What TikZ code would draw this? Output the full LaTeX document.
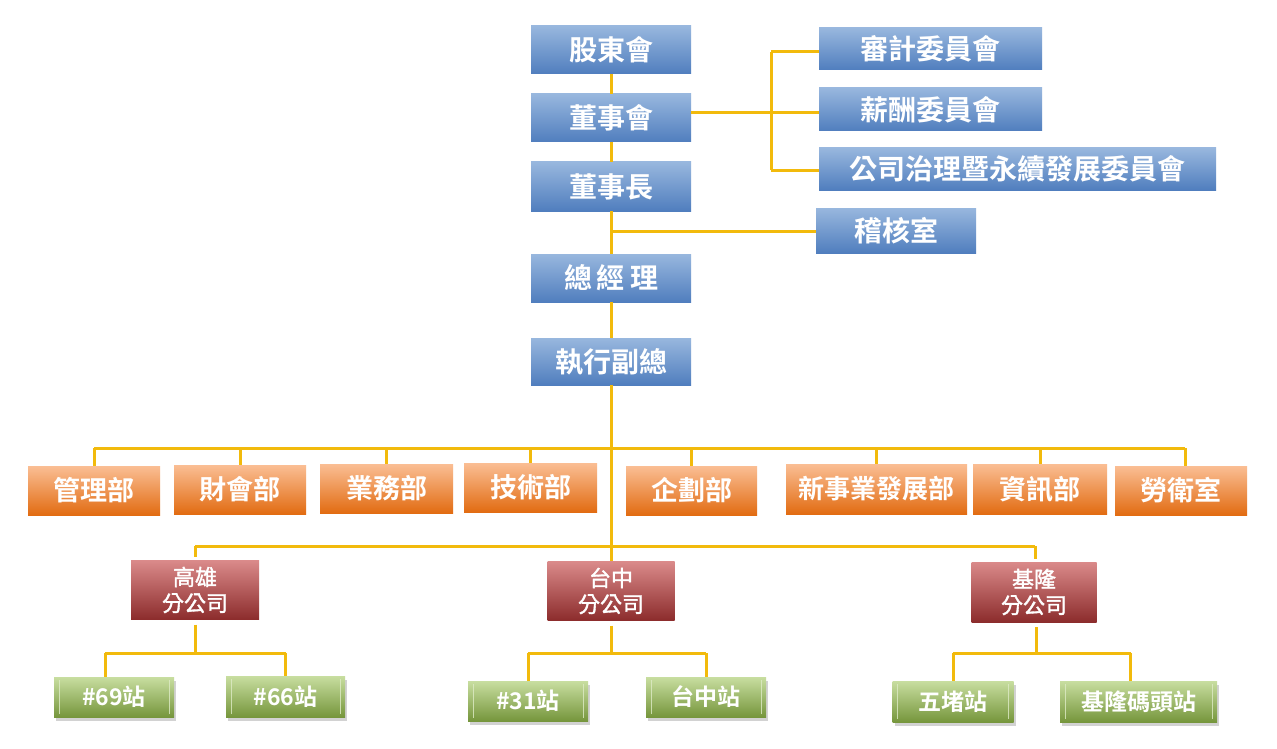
\documentclass[tikz,border=0pt]{standalone}
\usepackage{fontspec}
\newfontfamily\cjk{Noto Sans CJK TC}[BoldFont={Noto Sans CJK TC Bold}]
\newfontfamily\cjkmed{Noto Sans CJK TC}[FakeBold=1.6]
\usetikzlibrary{shadows}
\definecolor{linec}{RGB}{242,186,12}
\definecolor{bltop}{RGB}{152,183,222}
\definecolor{blbot}{RGB}{80,126,190}
\definecolor{ortop}{RGB}{250,190,148}
\definecolor{orbot}{RGB}{226,108,18}
\definecolor{rdtop}{RGB}{218,138,138}
\definecolor{rdbot}{RGB}{140,44,44}
\definecolor{grtop}{RGB}{200,222,160}
\definecolor{grbot}{RGB}{118,150,60}
\tikzset{
  basebox/.style={rectangle, inner sep=0pt, text=white, align=center},
  bluebox/.style={basebox, top color=bltop, bottom color=blbot, font=\cjk\bfseries\fontsize{28}{30}\selectfont},
  orangebox/.style={basebox, top color=ortop, bottom color=orbot, font=\cjk\bfseries\fontsize{27}{30}\selectfont},
  redbox/.style={basebox, top color=rdtop, bottom color=rdbot, font=\cjkmed\fontsize{22}{26}\selectfont},
  greenbox/.style={basebox, top color=grtop, bottom color=grbot, font=\cjk\bfseries\fontsize{23}{26}\selectfont,
    drop shadow={opacity=0.35, shadow xshift=2pt, shadow yshift=-4pt},
    path picture={
      \draw[grtop!60!white, line width=0.8pt, opacity=0.8]
        ([xshift=5pt,yshift=-3pt]path picture bounding box.north west) --
        ([xshift=5pt,yshift=3pt]path picture bounding box.south west);
      \draw[grtop!60!white, line width=0.8pt, opacity=0.8]
        ([xshift=-5pt,yshift=-3pt]path picture bounding box.north east) --
        ([xshift=-5pt,yshift=3pt]path picture bounding box.south east);
    }},
  conn/.style={draw=linec, line width=3pt}
}
\begin{document}
\begin{tikzpicture}[x=1pt,y=-1pt]
\useasboundingbox (0,0) rectangle (1277,749);
\fill[white] (0,0) rectangle (1277,749);

% blue column
\node[bluebox, minimum width=160pt, minimum height=48pt] (gd) at (611,50) {股東會};
\node[bluebox, minimum width=160pt, minimum height=48pt] (bd) at (611,118) {董事會};
\node[bluebox, minimum width=160pt, minimum height=49pt] (cm) at (611,186.5) {董事長};
\node[bluebox, minimum width=160pt, minimum height=48pt] (gm) at (611,278) {總\hspace{5pt}經\hspace{5pt}理};
\node[bluebox, minimum width=160pt, minimum height=47pt] (evp) at (611,361.5) {執行副總};

% committees
\node[bluebox, minimum width=223pt, minimum height=42pt] (c1) at (930.5,49) {審計委員會};
\node[bluebox, minimum width=223pt, minimum height=43pt] (c2) at (930.5,109.5) {薪酬委員會};
\node[bluebox, minimum width=397pt, minimum height=42pt] (c3) at (1017.5,169) {公司治理暨永續發展委員會};
\node[bluebox, minimum width=160pt, minimum height=45pt] (au) at (896,230.5) {稽核室};

% departments
\node[orangebox, minimum width=132pt, minimum height=49pt] (d1) at (94,490.5) {管理部};
\node[orangebox, minimum width=132pt, minimum height=49pt] (d2) at (240,489.5) {財會部};
\node[orangebox, minimum width=133pt, minimum height=49pt] (d3) at (386.5,488.5) {業務部};
\node[orangebox, minimum width=133pt, minimum height=49pt] (d4) at (530.5,487.5) {技術部};
\node[orangebox, minimum width=131pt, minimum height=49pt] (d5) at (691.5,490.5) {企劃部};
\node[orangebox, minimum width=181pt, minimum height=50pt, font=\cjk\bfseries\fontsize{26}{30}\selectfont] (d6) at (876.5,489) {新事業發展部};
\node[orangebox, minimum width=134pt, minimum height=50pt] (d7) at (1040,489) {資訊部};
\node[orangebox, minimum width=132pt, minimum height=49pt] (d8) at (1181,490.5) {勞衛室};

% branches
\node[redbox, minimum width=128pt, minimum height=59pt] (kz) at (195,590) {高雄\\分公司};
\node[redbox, minimum width=127pt, minimum height=59pt] (tz) at (611,591) {台中\\分公司};
\node[redbox, minimum width=125pt, minimum height=60pt] (jl) at (1034,592) {基隆\\分公司};

% stations
\node[greenbox, minimum width=120pt, minimum height=40pt] (g1) at (114,697) {\#69站};
\node[greenbox, minimum width=119pt, minimum height=41pt] (g2) at (285.5,696.5) {\#66站};
\node[greenbox, minimum width=120pt, minimum height=40pt] (g3) at (528,701) {\#31站};
\node[greenbox, minimum width=120pt, minimum height=40pt] (g4) at (706,697) {台中站};
\node[greenbox, minimum width=121pt, minimum height=41pt] (g5) at (953,701.5) {五堵站};
\node[greenbox, minimum width=157pt, minimum height=41pt] (g6) at (1138.5,701.5) {基隆碼頭站};

% junction coordinates
\coordinate (bj) at (771,113);
\coordinate (ct) at (771,52);
\coordinate (cb) at (771,170);
\coordinate (aj) at (611,231);
\coordinate (db) at (611,448);
\coordinate (bb) at (611,546);
\coordinate (kj) at (195,653);
\coordinate (tj) at (611,653);
\coordinate (jj) at (1036,653);

% main trunk
\draw[conn] (gd) -- (bd);
\draw[conn] (bd) -- (cm);
\draw[conn] (cm) -- (gm);
\draw[conn] (gm) -- (evp);
\draw[conn] (evp.south) -- (tz.north);
% committees
\draw[conn] (bd.east |- bj) -- (bj);
\draw[conn] (ct) -- (cb);
\draw[conn] (ct) -- (c1.west |- ct);
\draw[conn] (bj) -- (c2.west |- bj);
\draw[conn] (cb) -- (c3.west |- cb);
% audit
\draw[conn] (aj) -- (au.west |- aj);
% department bus
\draw[conn] (d1.north |- db) -- ([xshift=4pt]d8.north |- db);
\foreach \d in {d1,d2,d3,d4,d5,d6,d7} {\draw[conn] (\d.north |- db) -- (\d.north);}
\draw[conn] ([xshift=4pt]d8.north |- db) -- ([xshift=4pt]d8.north);
% branch bus
\draw[conn] (kz.north |- bb) -- ([xshift=1pt]jl.north |- bb);
\draw[conn] (kz.north |- bb) -- ([yshift=3pt]kz.north);
\draw[conn] ([xshift=1pt]jl.north |- bb) -- ([xshift=1pt,yshift=3pt]jl.north);
% stations
\draw[conn] ([yshift=-5pt]kz.south) -- (kj);
\draw[conn] ([xshift=-9pt]g1.north |- kj) -- (g2.north |- kj);
\draw[conn] ([xshift=-9pt]g1.north |- kj) -- ([xshift=-9pt]g1.north);
\draw[conn] (g2.north |- kj) -- (g2.north);
\draw[conn] ([yshift=-5pt]tz.south) -- (tj);
\draw[conn] (g3.north |- tj) -- (g4.north |- tj);
\draw[conn] (g3.north |- tj) -- (g3.north);
\draw[conn] (g4.north |- tj) -- (g4.north);
\draw[conn] ([xshift=2pt,yshift=-5pt]jl.south) -- (jj);
\draw[conn] (g5.north |- jj) -- ([xshift=-8pt]g6.north |- jj);
\draw[conn] (g5.north |- jj) -- (g5.north);
\draw[conn] ([xshift=-8pt]g6.north |- jj) -- ([xshift=-8pt]g6.north);
\end{tikzpicture}
\end{document}
